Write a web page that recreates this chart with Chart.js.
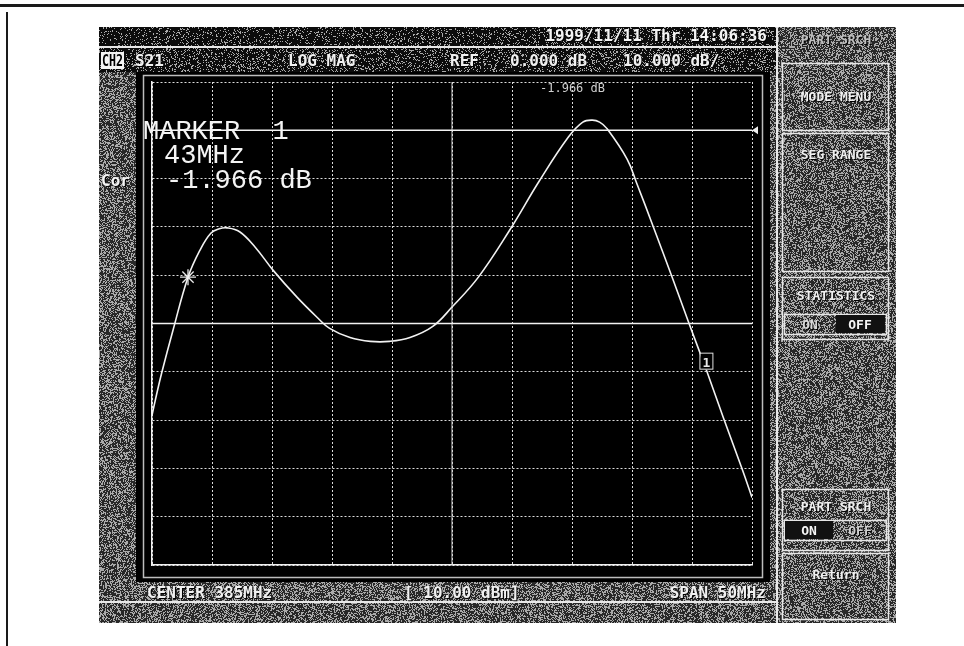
<!DOCTYPE html>
<html>
<head>
<meta charset="utf-8">
<title>S21 LOG MAG</title>
<script src="https://cdn.jsdelivr.net/npm/chart.js@4.4.1/dist/chart.umd.min.js"></script>
<style>
html, body { margin: 0; padding: 0; background: #fff; }
#contenedor { width: 964px; height: 646px; }
</style>
</head>
<body>
<div id="contenedor"><canvas id="grafica" width="964" height="646"></canvas></div>
<script>
var frecuencias = [360.0, 360.4, 360.8, 361.75, 363.0, 364.0, 364.9, 365.6, 366.25, 367.3,
	368.6, 370.1, 372.1, 373.75, 374.8, 376.5, 378.2, 379.8, 381.5, 383.4,
	385.0, 387.2, 389.8, 392.3, 394.7, 395.9, 396.7, 397.3, 397.9, 399.6,
	400.4, 401.75, 403.4, 404.8, 406.25, 407.6, 409.2, 410.0];
var nivelS21 = [-59.0, -54.5, -50.3, -41.4, -30.4, -24.8, -21.3, -20.4, -20.2, -21.0,
	-24.2, -29.0, -34.6, -38.7, -41.0, -42.9, -43.7, -43.7, -42.9, -40.6,
	-36.6, -30.4, -20.7, -10.4, -1.4, 1.7, 2.1, 1.7, 0.4, -6.0,
	-11.0, -19.8, -30.8, -40.3, -50.0, -59.4, -70.3, -76.0];

// Ejes: CENTER 385MHz, SPAN 50MHz, REF 0 dB, 10 dB/div
var limitesFrecuencia = [360, 410];
var limitesNivel = [-90, 10];
var pasos = [5, 10];
var lineasSolidas = [0, -40];     // dB
var frecuenciaCentro = 385;

// Marcadores
var marcadorEstrella = [363.0, -30.4];
var marcadorUno = [406.2, -47.9];

// Textos de la pantalla
var cabecera = ['CH2', 'S21', 'LOG MAG', 'REF', '0.000 dB', '10.000 dB/'];
var fechaHora = '1999/11/11 Thr 14:06:36';
var pie = ['CENTER 385MHz', '[ 10.00 dBm]', 'SPAN 50MHz'];
var lecturaMarcador = ['MARKER  1', '43MHz', '-1.966 dB'];
var menuDerecho = ['PART SRCH', 'MODE MENU', 'SEG RANGE', 'STATISTICS', 'PART SRCH', 'Return'];

var fuenteEquipo = 'bold 16px "DejaVu Sans Mono"';

/* rellena un rectangulo con un punteado gris fijo (aspecto de escaneo) */
function ruido(ctx, x0, y0, w, h, p, oscuro, claro) {
	var img = ctx.createImageData(w, h);
	for (var j = 0; j < h; j++) {
		for (var i = 0; i < w; i++) {
			var n = (Math.imul(x0 + i, 374761393) + Math.imul(y0 + j, 668265263)) | 0;
			n = Math.imul(n ^ (n >>> 13), 1274126177);
			n = (n ^ (n >>> 16)) >>> 0;
			var v = (n & 0xffff) / 65536 < p ? claro : oscuro;
			var k = (j * w + i) * 4;
			img.data[k] = v; img.data[k + 1] = v; img.data[k + 2] = v; img.data[k + 3] = 255;
		}
	}
	ctx.putImageData(img, x0, y0);
}

function textoSombra(ctx, txt, x, y, color) {
	ctx.fillStyle = '#000';
	ctx.fillText(txt, x + 1, y + 1);
	ctx.fillStyle = color;
	ctx.fillText(txt, x, y);
}

function caja(ctx, x, y, w, h) {
	ctx.strokeStyle = '#e6e6e6';
	ctx.lineWidth = 1.5;
	ctx.strokeRect(x + 0.5, y + 0.5, w, h);
}

var fondoPantalla = {
	id: 'fondoPantalla',
	beforeDraw: function(chart) {
		var ctx = chart.ctx;
		ctx.save();
		ctx.fillStyle = '#fff';
		ctx.fillRect(0, 0, 964, 646);
		// marco de la pagina
		ctx.fillStyle = '#1a1a1a';
		ctx.fillRect(0, 4, 964, 3);
		ctx.fillRect(6, 12, 2, 634);

		// pantalla del equipo
		ruido(ctx, 99, 27, 797, 596, 0.4, 40, 170);
		ruido(ctx, 99, 27, 678, 19, 0.16, 12, 170);
		ruido(ctx, 99, 48, 678, 24, 0.2, 12, 170);

		ctx.fillStyle = '#000';
		ctx.fillRect(136, 72, 634, 510);
		ctx.strokeStyle = '#bdbdbd';
		ctx.lineWidth = 1.5;
		ctx.strokeRect(143.5, 75.5, 619, 502);

		// separadores
		ctx.fillStyle = '#e8e8e8';
		ctx.fillRect(99, 46, 678, 2);
		ctx.fillRect(99, 601, 678, 2);
		ctx.fillRect(776, 27, 2, 596);

		// cabecera
		ctx.font = fuenteEquipo;
		ctx.textBaseline = 'alphabetic';
		ctx.textAlign = 'right';
		textoSombra(ctx, fechaHora, 767, 41, '#f4f4f4');
		ctx.textAlign = 'left';
		ctx.fillStyle = '#f4f4f4';
		ctx.fillRect(101, 52, 23, 17);
		ctx.fillStyle = '#000';
		ctx.fillText(cabecera[0], 98 + 4, 66, 21);
		var posCab = [135, 288, 450, 510, 623];
		for (var i = 1; i < cabecera.length; i++) {
			textoSombra(ctx, cabecera[i], posCab[i - 1], 66, '#f0f0f0');
		}
		textoSombra(ctx, 'Cor', 101, 186, '#f4f4f4');

		// pie
		textoSombra(ctx, pie[0], 147, 598, '#f0f0f0');
		textoSombra(ctx, pie[1], 404, 598, '#f0f0f0');
		ctx.textAlign = 'right';
		textoSombra(ctx, pie[2], 766, 598, '#f0f0f0');

		// menu de la derecha
		ctx.textAlign = 'center';
		ctx.font = 'bold 13px "DejaVu Sans Mono"';
		textoSombra(ctx, menuDerecho[0], 836, 44, '#bfbfbf');
		caja(ctx, 782, 63, 106, 67);
		textoSombra(ctx, menuDerecho[1], 836, 101, '#f0f0f0');
		caja(ctx, 782, 133, 106, 138);
		textoSombra(ctx, menuDerecho[2], 836, 159, '#f0f0f0');
		caja(ctx, 782, 277, 106, 62);
		textoSombra(ctx, menuDerecho[3], 836, 300, '#f0f0f0');
		caja(ctx, 784, 314, 102, 20);
		ctx.fillStyle = '#111';
		ctx.fillRect(836, 315, 49, 18);
		ctx.fillStyle = '#f4f4f4';
		ctx.fillText('OFF', 860, 329);
		textoSombra(ctx, 'ON', 810, 329, '#d8d8d8');
		caja(ctx, 782, 489, 106, 61);
		textoSombra(ctx, menuDerecho[4], 836, 511, '#f0f0f0');
		caja(ctx, 784, 520, 102, 20);
		ctx.fillStyle = '#111';
		ctx.fillRect(785, 521, 48, 18);
		ctx.fillStyle = '#f4f4f4';
		ctx.fillText('ON', 809, 535);
		textoSombra(ctx, 'OFF', 860, 535, '#cfcfcf');
		caja(ctx, 782, 553, 106, 66);
		textoSombra(ctx, menuDerecho[5], 836, 579, '#f0f0f0');
		ctx.restore();
	}
};

var rotulos = {
	id: 'rotulos',
	afterDatasetsDraw: function(chart) {
		var ctx = chart.ctx;
		var ejeX = chart.scales.x, ejeY = chart.scales.y;
		ctx.save();
		// triangulo de referencia
		var yRef = ejeY.getPixelForValue(lineasSolidas[0]);
		ctx.fillStyle = '#f0f0f0';
		ctx.beginPath();
		ctx.moveTo(chart.chartArea.right, yRef);
		ctx.lineTo(chart.chartArea.right + 6, yRef - 4);
		ctx.lineTo(chart.chartArea.right + 6, yRef + 4);
		ctx.closePath();
		ctx.fill();

		// caja del marcador 1
		var mx = ejeX.getPixelForValue(marcadorUno[0]);
		var my = ejeY.getPixelForValue(marcadorUno[1]);
		ctx.fillStyle = '#000';
		ctx.fillRect(mx - 6, my - 8, 13, 16);
		ctx.strokeStyle = '#e0e0e0';
		ctx.lineWidth = 1;
		ctx.strokeRect(mx - 6.5, my - 8.5, 13, 16);
		ctx.font = 'bold 13px "DejaVu Sans Mono"';
		ctx.textAlign = 'center';
		ctx.fillStyle = '#e8e8e8';
		ctx.fillText('1', mx, my + 5);

		// lectura pequena arriba
		ctx.font = '12px "DejaVu Sans Mono"';
		ctx.textAlign = 'left';
		ctx.fillStyle = '#cfcfcf';
		ctx.fillText(lecturaMarcador[2], 540, 92);

		// lectura grande del marcador
		ctx.font = '27px "Liberation Mono"';
		ctx.fillStyle = '#f4f4f4';
		ctx.fillText(lecturaMarcador[0], 143, 139);
		ctx.fillText(lecturaMarcador[1], 164, 163);
		ctx.fillText(lecturaMarcador[2], 166, 188);
		ctx.restore();
	}
};

var traza = [];
for (var i = 0; i < frecuencias.length; i++) {
	traza.push({ x: frecuencias[i], y: nivelS21[i] });
}

var blanco = '#f2f2f2';
var config = {
	type: 'line',
	data: {
		datasets: [
			{
				label: 'Ref',
				data: [{ x: limitesFrecuencia[0], y: lineasSolidas[0] }, { x: limitesFrecuencia[1], y: lineasSolidas[0] }],
				borderColor: blanco, borderWidth: 1.5, pointRadius: 0
			},
			{
				label: 'Centro',
				data: [{ x: limitesFrecuencia[0], y: lineasSolidas[1] }, { x: limitesFrecuencia[1], y: lineasSolidas[1] }],
				borderColor: blanco, borderWidth: 1.5, pointRadius: 0
			},
			{
				label: 'Centro f',
				data: [{ x: frecuenciaCentro, y: limitesNivel[0] }, { x: frecuenciaCentro, y: limitesNivel[1] }],
				borderColor: '#d8d8d8', borderWidth: 1, pointRadius: 0
			},
			{
				label: 'S21',
				data: traza,
				borderColor: blanco, borderWidth: 1.6, pointRadius: 0,
				tension: 0.4
			},
			{
				label: 'Marcador',
				data: [{ x: marcadorEstrella[0], y: marcadorEstrella[1] }],
				showLine: false, pointStyle: 'star', pointRadius: 8,
				pointBorderColor: '#e8e8e8', pointBorderWidth: 1.3
			}
		]
	},
	options: {
		responsive: false,
		animation: false,
		events: [],
		layout: { padding: { left: 152, right: 212, top: 82, bottom: 81 } },
		plugins: { legend: { display: false }, tooltip: { enabled: false } },
		scales: {
			x: {
				type: 'linear', min: limitesFrecuencia[0], max: limitesFrecuencia[1],
				ticks: { display: false, stepSize: pasos[0] },
				grid: { color: '#dcdcdc', lineWidth: 1, drawTicks: false },
				border: { display: true, color: '#f0f0f0', width: 1.5, dash: [2, 2] }
			},
			y: {
				type: 'linear', min: limitesNivel[0], max: limitesNivel[1],
				ticks: { display: false, stepSize: pasos[1] },
				grid: { color: '#dcdcdc', lineWidth: 1, drawTicks: false },
				border: { display: true, color: '#f0f0f0', width: 1.5, dash: [2, 2] }
			}
		}
	},
	plugins: [fondoPantalla, rotulos]
};

var miGrafica = new Chart(document.getElementById('grafica'), config);
</script>
</body>
</html>
